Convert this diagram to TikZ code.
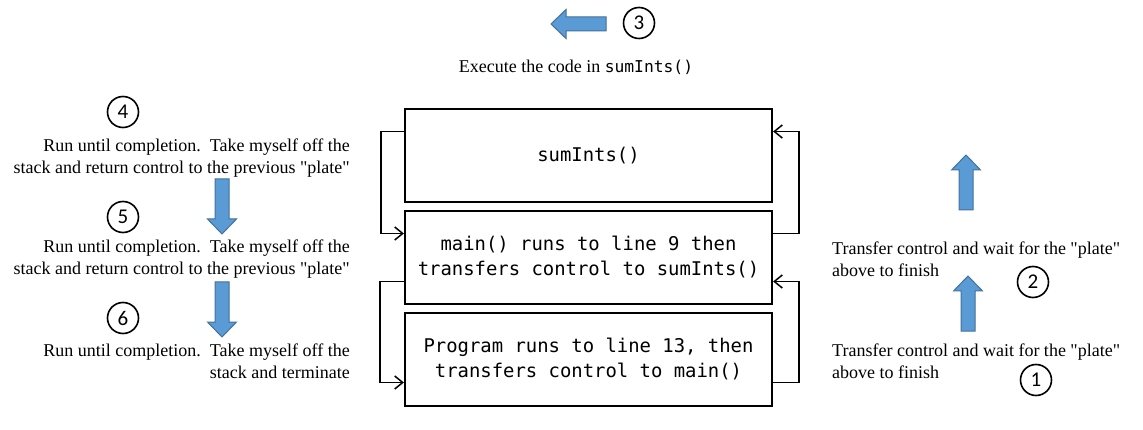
\documentclass[tikz,border=0pt]{standalone}
\usepackage{fontspec}
\setmainfont{Liberation Serif}[Ligatures=TeXOff]
\newfontfamily\codefont{DejaVu Sans Mono}
\newfontfamily\numfont{Carlito}
\usetikzlibrary{arrows.meta,positioning}
\definecolor{arrowblue}{HTML}{5B9BD5}
\definecolor{arrowedge}{HTML}{41719C}

\begin{document}
\begin{tikzpicture}
            [x=1pt,y=-1pt,
             plate/.style={draw,line width=2.2pt,minimum width=367pt,minimum height=93pt,align=center,font=\codefont\fontsize{18.9}{25}\selectfont},
             stepnum/.style={circle,draw,line width=1.6pt,minimum size=31pt,inner sep=0pt,font=\numfont\fontsize{21}{21}\selectfont},
             note/.style={inner sep=0pt,font=\fontsize{18}{22}\selectfont},
             flow/.style={line width=1.5pt,-{Straight Barb[length=8pt,width=13pt]}},
             fatarrow/.pic={\filldraw[fill=arrowblue,draw=arrowedge,line width=1pt]
                 (0,0) -- (14.5,15) -- (7,15) -- (7,55) -- (-7,55) -- (-7,15) -- (-14.5,15) -- cycle;}]
            \useasboundingbox (0,0) rectangle (1143,430);

            % the stack of plates
            \node[plate] (P1) at (588.5,155.5) {sumInts()};
            \node[plate] (P2) at (588.5,257.5) {main() runs to line 9 then\\transfers control to sumInts()};
            \node[plate] (P3) at (588.5,359.5) {Program runs to line 13, then\\transfers control to main()};

            % control handed back down
            \draw[flow] ([yshift=24pt]P1.west) -- ++(-23,0) |- ([yshift=24pt]P2.west);
            \draw[flow] ([yshift=-24pt]P2.west) -- ++(-24,0) |- ([yshift=-23pt]P3.west);
            % control handed up
            \draw[flow] ([yshift=24pt]P2.east) -- ++(26,0) |- ([yshift=24pt]P1.east);
            \draw[flow] ([yshift=-23pt]P3.east) -- ++(26,0) |- ([yshift=-24pt]P2.east);

            % step numbers
            \node[stepnum] (C1) at (1036,380) {1};
            \node[stepnum] (C2) at (1033,282) {2};
            \node[stepnum] (C3) at (639,23) {3};
            \node[stepnum] (C4) at (123,112) {4};
            \node[stepnum] (C5) at (123,217) {5};
            \node[stepnum] (C6) at (123,318) {6};

            % notes
            \node[note] (E3) at (576,67) {Execute the code in {\codefont\fontsize{16.3}{20}\selectfont sumInts()}};
            \node[note,anchor=east,align=right] (T4) at (350,158) {Run until completion.\ \ Take myself off the\\stack and return control to the previous "plate"};
            \node[note,anchor=east,align=right] (T5) at (350,259) {Run until completion.\ \ Take myself off the\\stack and return control to the previous "plate"};
            \node[note,anchor=east,align=right] (T6) at (350,361) {Run until completion.\ \ Take myself off the\\stack and terminate};
            \node[note,anchor=west,align=left] (T2) at (832,259) {Transfer control and wait for the "plate"\\above to finish};
            \node[note,anchor=west,align=left] (T1) at (832,361) {Transfer control and wait for the "plate"\\above to finish};

            % block arrows
            \pic[rotate=90] at (551,24) {fatarrow};
            \pic[rotate=180] at (222,234) {fatarrow};
            \pic[rotate=180] at (222,337) {fatarrow};
            \pic at (966,155) {fatarrow};
            \pic at (968,276) {fatarrow};
        \end{tikzpicture}
\end{document}
